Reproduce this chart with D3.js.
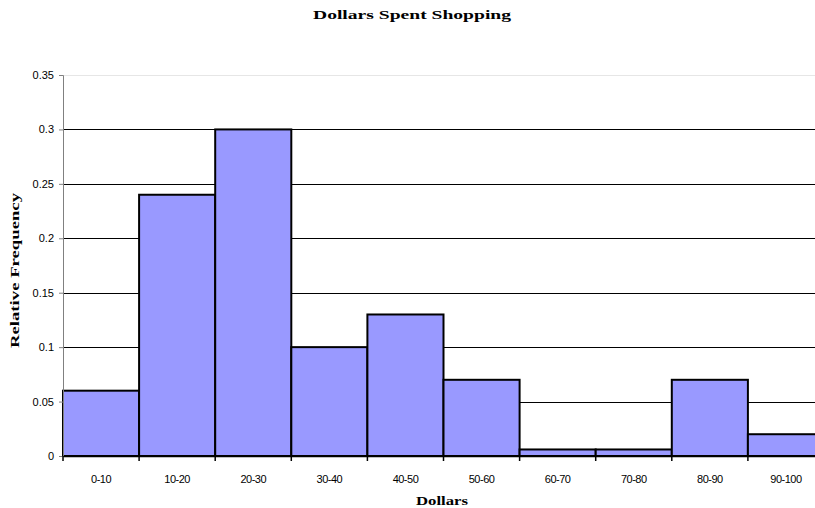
<!DOCTYPE html>
<html>
<head>
<meta charset="utf-8">
<script src="https://cdn.jsdelivr.net/npm/d3@7"></script>
<style>
  body { margin: 0; background: #fff; }
  svg { display: block; }
</style>
</head>
<body>
<div id="chart"></div>
<script>
const categories = ['0-10', '10-20', '20-30', '30-40', '40-50', '50-60', '60-70', '70-80', '80-90', '90-100'];
const frequency = [0.06, 0.24, 0.30, 0.10, 0.13, 0.07, 0.006, 0.006, 0.07, 0.02];
const yTicks = [0, 0.05, 0.1, 0.15, 0.2, 0.25, 0.3, 0.35];

const width = 815;
const height = 508;
const margin = { top: 75, right: -9, bottom: 52, left: 63 };

const svg = d3.select('#chart')
  .append('svg')
  .attr('width', width)
  .attr('height', height);

const xScale = d3.scaleBand()
  .domain(categories)
  .range([margin.left, width - margin.right])
  .padding(0);

const yScale = d3.scaleLinear()
  .domain([0, 0.35])
  .range([height - margin.bottom, margin.top]);

// Gridlines
svg.append('g')
  .selectAll('line')
  .data(yTicks.slice(1))
  .enter()
  .append('line')
  .attr('x1', margin.left)
  .attr('x2', width - margin.right)
  .attr('y1', d => Math.round(yScale(d)) + 0.5)
  .attr('y2', d => Math.round(yScale(d)) + 0.5)
  .attr('stroke', d => d === 0.35 ? '#e6e6e6' : '#000')
  .attr('stroke-width', 1);

// Bars
svg.append('g')
  .selectAll('rect')
  .data(frequency)
  .enter()
  .append('rect')
  .attr('x', (d, i) => xScale(categories[i]))
  .attr('y', d => yScale(d))
  .attr('width', xScale.bandwidth())
  .attr('height', d => yScale(0) - yScale(d))
  .attr('fill', '#9999ff')
  .attr('stroke', '#000')
  .attr('stroke-width', 2);

// Y axis
const yAxis = svg.append('g')
  .attr('transform', `translate(${margin.left}, 0)`)
  .call(d3.axisLeft(yScale).tickValues(yTicks).tickSize(4).tickFormat(d => String(+d.toFixed(2))));
yAxis.select('.domain').attr('stroke', '#808080');
yAxis.selectAll('.tick line').attr('stroke', '#808080');
yAxis.selectAll('text')
  .attr('font-family', 'Liberation Sans, Arial, sans-serif')
  .attr('font-size', 11)
  .attr('fill', '#000')
  .attr('dx', -2);

// X axis
const xAxis = svg.append('g')
  .attr('transform', `translate(0, ${yScale(0)})`)
  .call(d3.axisBottom(xScale).tickSize(0).tickPadding(19));
xAxis.select('.domain').attr('stroke', '#000').attr('stroke-width', 1.5);
xAxis.selectAll('text')
  .attr('font-family', 'Liberation Sans, Arial, sans-serif')
  .attr('font-size', 11)
  .attr('fill', '#000')
  .attr('letter-spacing', -0.5);

// Tick marks at bin boundaries
svg.append('g')
  .selectAll('line')
  .data(categories)
  .enter()
  .append('line')
  .attr('x1', d => xScale(d))
  .attr('x2', d => xScale(d))
  .attr('y1', yScale(0))
  .attr('y2', yScale(0) + 5)
  .attr('stroke', '#000')
  .attr('stroke-width', 1.5);

// Title
svg.append('text')
  .attr('x', 313)
  .attr('y', 19)
  .attr('font-family', 'Liberation Serif, Times New Roman, serif')
  .attr('font-weight', 'bold')
  .attr('font-size', 13)
  .attr('textLength', 198)
  .attr('lengthAdjust', 'spacingAndGlyphs')
  .text('Dollars Spent Shopping');

// X label
svg.append('text')
  .attr('x', 416)
  .attr('y', 505)
  .attr('font-family', 'Liberation Serif, Times New Roman, serif')
  .attr('font-weight', 'bold')
  .attr('font-size', 12)
  .attr('textLength', 52)
  .attr('lengthAdjust', 'spacingAndGlyphs')
  .text('Dollars');

// Y label
svg.append('text')
  .attr('transform', 'translate(19, 348) rotate(-90)')
  .attr('font-family', 'Liberation Serif, Times New Roman, serif')
  .attr('font-weight', 'bold')
  .attr('font-size', 12)
  .attr('textLength', 155)
  .attr('lengthAdjust', 'spacingAndGlyphs')
  .text('Relative Frequency');
</script>
</body>
</html>
